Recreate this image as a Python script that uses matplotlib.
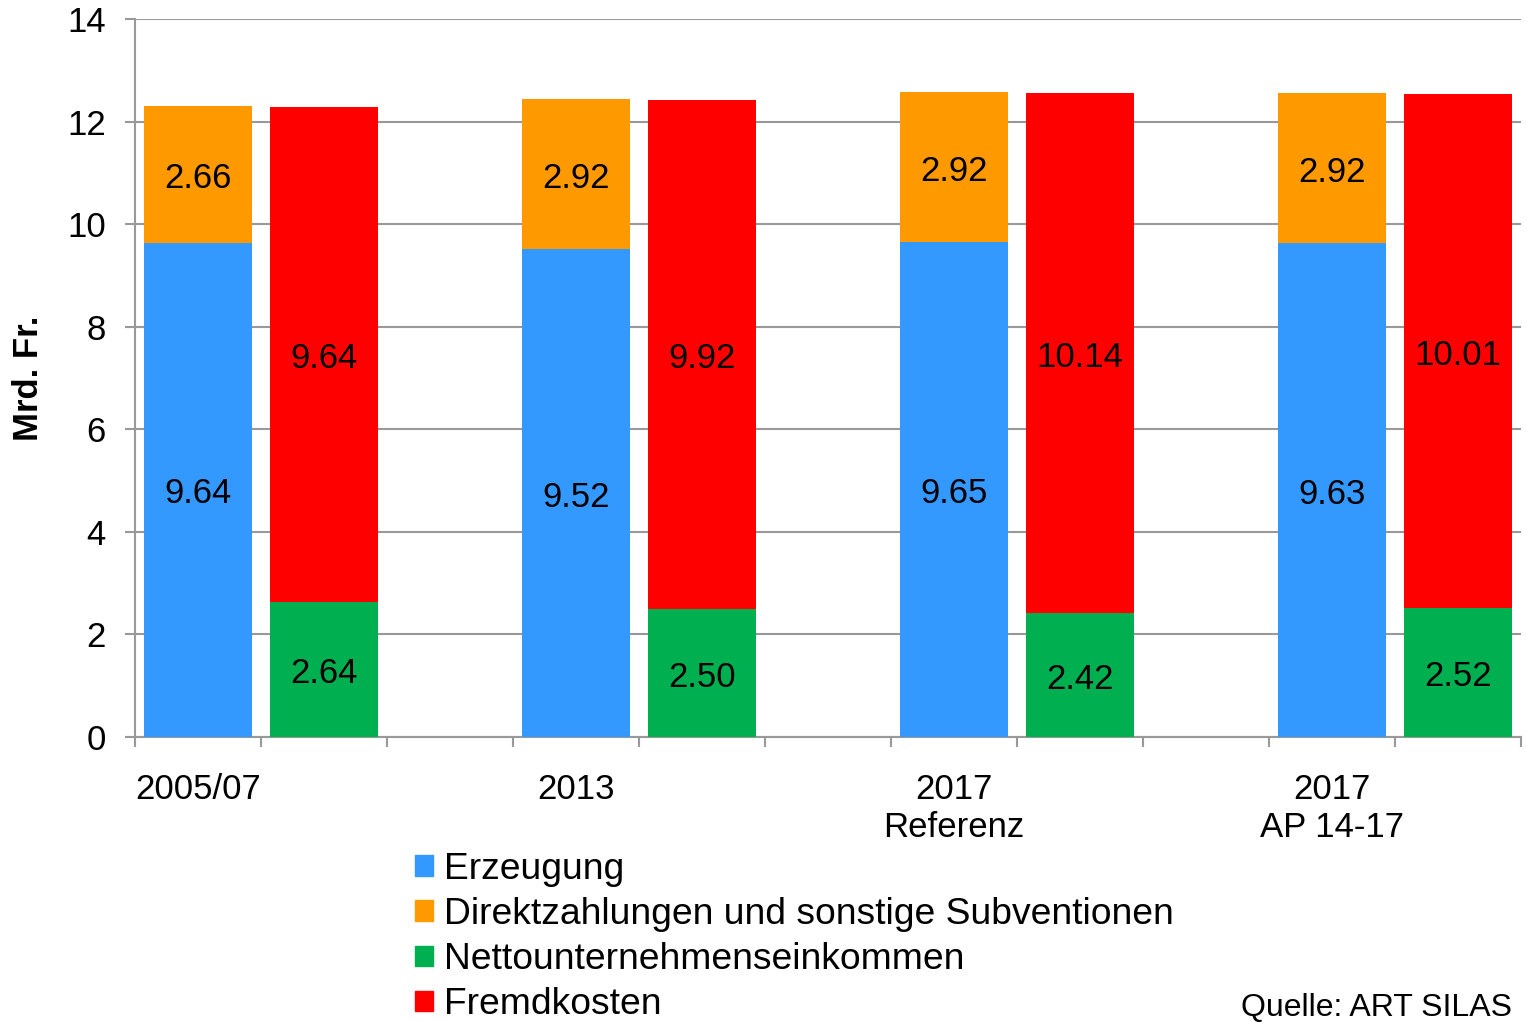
import matplotlib
matplotlib.use("Agg")
import matplotlib.pyplot as plt
from matplotlib.patches import Patch
from matplotlib.transforms import offset_copy

plt.rcParams['font.family'] = ['Liberation Sans', 'DejaVu Sans']

groups = ["2005/07", "2013", "2017\nReferenz", "2017\nAP 14-17"]
erzeugung = [9.64, 9.52, 9.65, 9.63]
direktzahlungen = [2.66, 2.92, 2.92, 2.92]
nettoeinkommen = [2.64, 2.50, 2.42, 2.52]
fremdkosten = [9.64, 9.92, 10.14, 10.01]

series_names = ["Erzeugung", "Direktzahlungen und sonstige Subventionen",
                "Nettounternehmenseinkommen", "Fremdkosten"]
colors = {"blue": "#3399FF", "orange": "#FF9900", "green": "#00B050", "red": "#FF0000"}

fig = plt.figure(figsize=(15.27, 10.22), dpi=100)
ax = fig.add_axes([135 / 1527, 1 - 737 / 1022, 1386 / 1527, 718 / 1022])

width = 0.85
left_pos = [3 * i + 0.5 for i in range(len(groups))]
right_pos = [3 * i + 1.5 for i in range(len(groups))]

ax.bar(left_pos, erzeugung, width, color=colors["blue"], zorder=3)
ax.bar(left_pos, direktzahlungen, width, bottom=erzeugung, color=colors["orange"], zorder=3)
ax.bar(right_pos, nettoeinkommen, width, color=colors["green"], zorder=3)
ax.bar(right_pos, fremdkosten, width, bottom=nettoeinkommen, color=colors["red"], zorder=3)

# segment labels in the middle of each piece (nudged a bit down)
lbl = 25
tr = offset_copy(ax.transData, fig=fig, x=0, y=-3, units="points")
for i in range(len(groups)):
    ax.text(left_pos[i], erzeugung[i] / 2, f"{erzeugung[i]:.2f}", ha="center", va="center",
            fontsize=lbl, zorder=4, transform=tr)
    ax.text(left_pos[i], erzeugung[i] + direktzahlungen[i] / 2, f"{direktzahlungen[i]:.2f}",
            ha="center", va="center", fontsize=lbl, zorder=4, transform=tr)
    ax.text(right_pos[i], nettoeinkommen[i] / 2, f"{nettoeinkommen[i]:.2f}", ha="center",
            va="center", fontsize=lbl, zorder=4, transform=tr)
    ax.text(right_pos[i], nettoeinkommen[i] + fremdkosten[i] / 2, f"{fremdkosten[i]:.2f}",
            ha="center", va="center", fontsize=lbl, zorder=4, transform=tr)

ax.set_xlim(0, 11)
ax.set_ylim(0, 14)
ax.set_yticks(range(0, 15, 2))
ax.set_xticks(range(0, 12))
ax.set_xticklabels([])
ax.set_xticks(left_pos, minor=True)
ax.set_xticklabels(groups, minor=True)

grid_c = "#999999"
ax.yaxis.grid(True, color=grid_c, linewidth=1.5, zorder=0)
for s in ["top", "right"]:
    ax.spines[s].set_visible(False)
for s in ["left", "bottom"]:
    ax.spines[s].set_color(grid_c)
    ax.spines[s].set_linewidth(1.5)

ax.tick_params(axis="y", which="major", direction="out", length=7, width=1.5,
               color=grid_c, labelsize=25, pad=14)
ax.tick_params(axis="x", which="major", direction="out", length=7, width=1.5, color=grid_c)
ax.tick_params(axis="x", which="minor", length=0, labelsize=25, pad=26)

fig.text(28 / 1527, 1 - 378 / 1022, "Mrd. Fr.", rotation=90, ha="center", va="center",
         fontsize=25, fontweight="bold")

handles = [Patch(color=colors[c]) for c in ["blue", "orange", "green", "red"]]
fig.legend(handles, series_names, loc="upper left", bbox_to_anchor=(415 / 1527, 1 - 852 / 1022),
           frameon=False, fontsize=26.8, handlelength=0.48, handleheight=0.48,
           handletextpad=0.3, labelspacing=0.27, borderpad=0, borderaxespad=0)

fig.text(1512 / 1527, 1 - 1016 / 1022, "Quelle: ART SILAS", ha="right", va="baseline", fontsize=23)

fig.savefig("out.png", dpi=100)
